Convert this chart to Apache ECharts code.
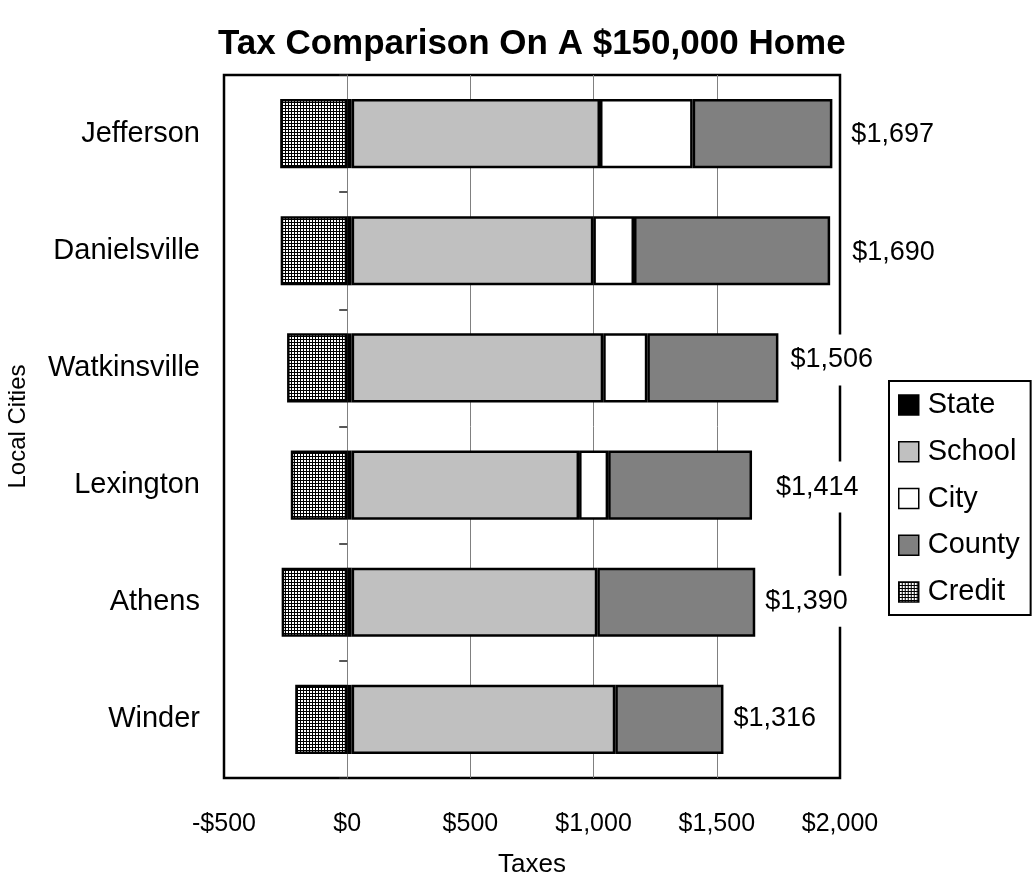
<!DOCTYPE html>
<html>
<head>
<meta charset="utf-8">
<title>Tax Comparison On A $150,000 Home</title>
<script src="https://cdn.jsdelivr.net/npm/echarts@6/dist/echarts.min.js"></script>
<style>
  html, body { margin: 0; padding: 0; background: #ffffff; }
  #chart { width: 1034px; height: 880px; }
</style>
</head>
<body>
<div id="chart"></div>
<script>
// Cities, top to bottom
const cities = ['Jefferson', 'Danielsville', 'Watkinsville', 'Lexington', 'Athens', 'Winder'];

// Tax components in dollars (null = no city tax)
const stateTax  = [18, 18, 18, 18, 18, 18];
const schoolTax = [1008, 981, 1021, 923, 997, 1070];
const cityTax   = [376, 165, 179, 118, null, null];
const countyTax = [567, 796, 532, 584, 641, 439];
const credit    = [-272, -270, -244, -229, -266, -211];

// Value axis ticks
const taxTicks = [-500, 0, 500, 1000, 1500, 2000];

// Net tax per city = all components plus the (negative) credit
const netTax = cities.map((_, i) =>
  (stateTax[i] || 0) + (schoolTax[i] || 0) + (cityTax[i] || 0) + (countyTax[i] || 0) + (credit[i] || 0)
);

const FONT = "'Liberation Sans', Arial, Helvetica, sans-serif";

function money(v) {
  return (v < 0 ? '-' : '') + '$' + Math.abs(v).toLocaleString('en-US');
}

// Fine black mesh used for the credit bars
function meshPattern() {
  const c = document.createElement('canvas');
  c.width = 3; c.height = 3;
  const g = c.getContext('2d');
  g.fillStyle = '#ffffff';
  g.fillRect(0, 0, 3, 3);
  g.fillStyle = '#000000';
  g.fillRect(0, 0, 3, 1);
  g.fillRect(0, 0, 1, 3);
  return c;
}

const barBorder = { borderColor: '#000000', borderWidth: 2.5 };

function stackBar(name, data, color, extra) {
  return Object.assign({
    name: name,
    type: 'bar',
    stack: 'tax',
    yAxisIndex: 0,
    barWidth: '59%',
    data: data,
    itemStyle: Object.assign({ color: color }, barBorder),
    emphasis: { disabled: true },
    animation: false
  }, extra || {});
}

// Hand-placed nudges for the net-tax labels (dx, dy in pixels)
const netLabelNudge = [[0, 1], [3, 2], [-7, -8], [5, 2], [-9, -1], [-9, -1]];

const countyItems = countyTax.map((v, i) => ({
  value: v,
  label: { offset: netLabelNudge[i] }
}));

const chart = echarts.init(document.getElementById('chart'), null, { renderer: 'canvas' });

chart.setOption({
  backgroundColor: '#ffffff',
  textStyle: { fontFamily: FONT, color: '#000000' },
  title: {
    text: 'Tax Comparison On A $150,000 Home',
    left: 213,
    top: 22,
    textStyle: { fontFamily: FONT, fontSize: 35, fontWeight: 'bold', color: '#000000' }
  },
  legend: {
    orient: 'vertical',
    left: 889,
    top: 381,
    padding: [9, 11, 8, 9],
    itemGap: 16.75,
    itemWidth: 20,
    itemHeight: 20,
    icon: 'rect',
    borderColor: '#000000',
    borderWidth: 2,
    backgroundColor: '#ffffff',
    selectedMode: false,
    itemStyle: { borderWidth: 1.5, borderColor: '#000000' },
    textStyle: { fontFamily: FONT, fontSize: 29, lineHeight: 30, color: '#000000', padding: [0, 0, 0, 4] },
    data: ['State', 'School', 'City', 'County', 'Credit']
  },
  grid: {
    left: 224,
    right: 194,
    top: 75,
    bottom: 102,
    outerBoundsMode: 'none',
    containLabel: false,
    show: true,
    borderColor: '#000000',
    borderWidth: 2.5,
    backgroundColor: 'transparent'
  },
  xAxis: {
    type: 'value',
    min: taxTicks[0],
    max: taxTicks[taxTicks.length - 1],
    interval: 500,
    name: 'Taxes',
    nameLocation: 'middle',
    nameGap: 74,
    nameTextStyle: { fontFamily: FONT, fontSize: 26, color: '#000000' },
    axisLine: { show: false },
    axisTick: { show: false },
    axisLabel: {
      margin: 34,
      fontFamily: FONT,
      fontSize: 25,
      color: '#000000',
      formatter: money
    },
    splitLine: {
      show: true,
      showMinLine: false,
      showMaxLine: false,
      lineStyle: { color: '#808080', width: 1 }
    }
  },
  yAxis: [
    {
      type: 'category',
      data: cities,
      inverse: true,
      position: 'left',
      name: 'Local Cities',
      nameLocation: 'middle',
      nameGap: 194,
      nameRotate: 90,
      nameTextStyle: { fontFamily: FONT, fontSize: 24, color: '#000000' },
      axisLine: { show: false, onZero: false },
      axisTick: { show: false },
      axisLabel: { margin: 24, fontFamily: FONT, fontSize: 29, color: '#000000' },
      splitLine: { show: false }
    },
    {
      // zero line with its category ticks
      type: 'category',
      data: cities,
      inverse: true,
      position: 'left',
      axisLine: { show: true, onZero: true, onZeroAxisIndex: 0, lineStyle: { color: '#808080', width: 1 } },
      axisTick: { show: true, length: 8, lineStyle: { color: '#202020', width: 1.5 } },
      axisLabel: { show: false },
      splitLine: { show: false }
    }
  ],
  series: [
    stackBar('State', stateTax, '#000000'),
    stackBar('School', schoolTax, '#c0c0c0'),
    stackBar('City', cityTax, '#ffffff'),
    stackBar('County', countyItems, '#808080', {
      label: {
        show: true,
        position: 'right',
        distance: 14,
        fontFamily: FONT,
        fontSize: 27,
        color: '#000000',
        backgroundColor: '#ffffff',
        padding: [12, 5],
        formatter: p => money(netTax[p.dataIndex])
      }
    }),
    stackBar('Credit', credit, { image: meshPattern(), repeat: 'repeat' })
  ]
});
</script>
</body>
</html>
